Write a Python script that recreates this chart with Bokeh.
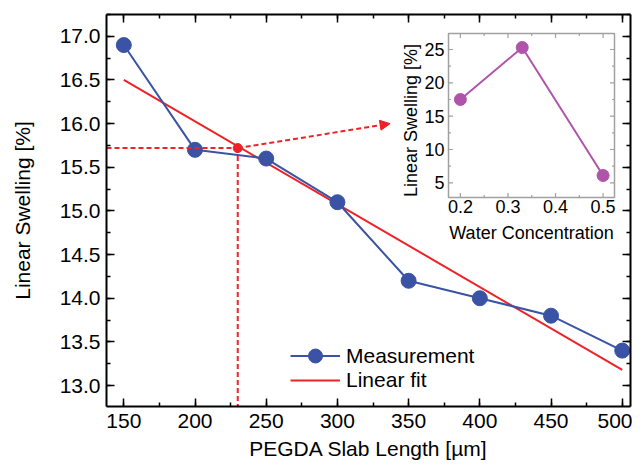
import math
from bokeh.plotting import figure
from bokeh.models import (Range1d, LinearAxis, SingleIntervalTicker, Arrow, NormalHead,
                          Legend, LegendItem, PrintfTickFormatter, CustomLabelingPolicy)
from bokeh.core.properties import value
from bokeh.embed import file_html
from bokeh.resources import INLINE

# ---------------- data ----------------
slab_length = [150, 200, 250, 300, 350, 400, 450, 500]
swelling = [16.9, 15.7, 15.6, 15.1, 14.2, 14.0, 13.8, 13.4]
fit_x = [150, 500]
fit_y = [16.5, 13.18]
marker_x = 230
marker_y = 15.72
arrow_end_x = 337
arrow_end_y = 16.0

water_conc = [0.2, 0.33, 0.5]
water_swelling = [17.5, 25.3, 6.1]
inset_xticks = [0.2, 0.3, 0.4, 0.5]
inset_xtick_labels = ["0.2", "0.3", "0.4", "0.5"]
inset_xminor = [0.25, 0.35, 0.45]
inset_yticks = [5, 10, 15, 20, 25]
inset_ytick_labels = ["5", "10", "15", "20", "25"]
inset_yminor = [7.5, 12.5, 17.5, 22.5]

# ---------------- style / layout ----------------
FONT = "Liberation Sans"
BLUE = "#3a53a4"
RED = "#ec2227"
PURPLE = "#b054aa"
GREY = "#a0a0a0"

W, H = 632, 467
BL, BR, BT, BB = 106, 2, 14, 61
FW = W - BL - BR
FH = H - BT - BB

p = figure(width=W, height=H, x_range=Range1d(137.85, 505.8), y_range=Range1d(12.76, 17.25),
           output_backend="svg", toolbar_location=None,
           min_border_left=BL, min_border_right=BR, min_border_top=BT, min_border_bottom=BB)
p.grid.visible = False
p.outline_line_color = None
p.background_fill_color = "white"

xt = SingleIntervalTicker(interval=50, num_minor_ticks=2)
yt = SingleIntervalTicker(interval=0.5, num_minor_ticks=2)

def style_axis(ax, ticker, labels=True):
    ax.ticker = ticker
    ax.axis_line_color = "black"
    ax.axis_line_width = 2
    ax.major_tick_line_color = "black"
    ax.minor_tick_line_color = "black"
    ax.major_tick_line_width = 1.5
    ax.minor_tick_line_width = 1.5
    ax.major_tick_in = 8
    ax.major_tick_out = 0
    ax.minor_tick_in = 4
    ax.minor_tick_out = 0
    if labels:
        ax.major_label_text_font = FONT
        ax.major_label_text_font_size = "21px"
        ax.major_label_text_color = "black"
        ax.axis_label_text_font = FONT
        ax.axis_label_text_font_size = "21px"
        ax.axis_label_text_font_style = "normal"
        ax.axis_label_text_color = "black"
    else:
        ax.major_label_text_font_size = "0px"
        ax.major_label_standoff = 0
        ax.major_label_policy = CustomLabelingPolicy(code="for (const i of indices) indices.unset(i)")
        ax.axis_label = None

style_axis(p.xaxis[0], xt)
style_axis(p.yaxis[0], yt)
p.yaxis[0].formatter = PrintfTickFormatter(format="%.1f")
p.xaxis[0].axis_label = "PEGDA Slab Length [µm]"
p.yaxis[0].axis_label = "Linear Swelling [%]"
p.xaxis[0].major_label_standoff = 7
p.xaxis[0].axis_label_standoff = 6
p.yaxis[0].major_label_standoff = 6
p.yaxis[0].axis_label_standoff = 23

top_ax = LinearAxis()
style_axis(top_ax, xt, labels=False)
p.add_layout(top_ax, "above")
right_ax = LinearAxis()
style_axis(right_ax, yt, labels=False)
p.add_layout(right_ax, "right")

# ---------------- main data ----------------
fit_r = p.line(fit_x, fit_y, line_color=RED, line_width=2)
meas_line = p.line(slab_length, swelling, line_color=BLUE, line_width=2)
meas_pts = p.scatter(slab_length, swelling, size=15, fill_color=BLUE, line_color=BLUE)

# guide lines to the marked point
p.segment(x0=[p.x_range.start, marker_x], y0=[marker_y, marker_y],
          x1=[marker_x, marker_x], y1=[marker_y, p.y_range.start],
          line_color=RED, line_width=2, line_dash="5 3")
p.add_layout(Arrow(x_start=marker_x, y_start=marker_y, x_end=arrow_end_x, y_end=arrow_end_y,
                   line_color=RED, line_width=2, line_dash="5 3",
                   end=NormalHead(size=10, fill_color=RED, line_color=RED, line_width=1)))
p.scatter([marker_x], [marker_y], size=9, fill_color=RED, line_color=RED)

legend_kw = dict(orientation="vertical", glyph_width=50, label_height=24, label_standoff=6,
                 spacing=0, padding=0, margin=0, border_line_color=None,
                 background_fill_alpha=0, label_text_font=FONT,
                 label_text_font_size="21px", label_text_color="black")
legend_meas = Legend(items=[LegendItem(label="Measurement", renderers=[meas_line, meas_pts])],
                     location=(184, 33), glyph_height=35, **legend_kw)
legend_fit = Legend(items=[LegendItem(label="Linear fit", renderers=[fit_r])],
                    location=(184, 14), glyph_height=24, **legend_kw)
p.add_layout(legend_meas)
p.add_layout(legend_fit)

# ---------------- inset ----------------
ix0, ix1 = 0.175, 0.524
iy0, iy1 = 2.8, 27.4
IL, IR, IT, IB = 342, 508, 19, 183   # inset box in frame pixels
sx = (IR - IL) / (ix1 - ix0)
sy = (IB - IT) / (iy1 - iy0)
p.extra_x_ranges = {"ix": Range1d(ix0 - IL / sx, ix1 + (FW - IR) / sx)}
p.extra_y_ranges = {"iy": Range1d(iy0 - (FH - IB) / sy, iy1 + IT / sy)}
kw = dict(x_range_name="ix", y_range_name="iy")

p.quad(left=[ix0], right=[ix1], bottom=[iy0], top=[iy1], fill_color="white",
       line_color=GREY, line_width=1.5, **kw)

MAJ, MIN = 4.5, 2.5
for ticks, ln in ((inset_xticks, MAJ), (inset_xminor, MIN)):
    n = len(ticks)
    p.segment(x0=ticks, x1=ticks, y0=[iy0] * n, y1=[iy0 + ln / sy] * n,
              line_color=GREY, line_width=1.2, **kw)
    p.segment(x0=ticks, x1=ticks, y0=[iy1] * n, y1=[iy1 - ln / sy] * n,
              line_color=GREY, line_width=1.2, **kw)
for ticks, ln in ((inset_yticks, MAJ), (inset_yminor, MIN)):
    n = len(ticks)
    p.segment(x0=[ix0] * n, x1=[ix0 + ln / sx] * n, y0=ticks, y1=ticks,
              line_color=GREY, line_width=1.2, **kw)
    p.segment(x0=[ix1] * n, x1=[ix1 - ln / sx] * n, y0=ticks, y1=ticks,
              line_color=GREY, line_width=1.2, **kw)

p.text(x=inset_xticks, y=[iy0] * len(inset_xticks), text=inset_xtick_labels,
       text_align="center", text_baseline="top", y_offset=2,
       text_font=value(FONT), text_font_size="18px", text_color="black", **kw)
p.text(x=[ix0] * len(inset_yticks), y=inset_yticks, text=inset_ytick_labels,
       text_align="right", text_baseline="middle", x_offset=-4,
       text_font=value(FONT), text_font_size="18px", text_color="black", **kw)
p.text(x=[(ix0 + ix1) / 2], y=[iy0], text=["Water Concentration"],
       text_align="center", text_baseline="top", y_offset=25,
       text_font=value(FONT), text_font_size="18px", text_color="black", **kw)
p.text(x=[ix0], y=[(iy0 + iy1) / 2], text=["Linear Swelling [%]"], angle=math.pi / 2,
       text_align="center", text_baseline="bottom", x_offset=-28, y_offset=5,
       text_font=value(FONT), text_font_size="18px", text_color="black", **kw)

p.line(water_conc, water_swelling, line_color=PURPLE, line_width=2, **kw)
p.scatter(water_conc, water_swelling, size=12, fill_color=PURPLE, line_color=PURPLE, **kw)

open("out.html", "w").write(file_html(p, INLINE))
